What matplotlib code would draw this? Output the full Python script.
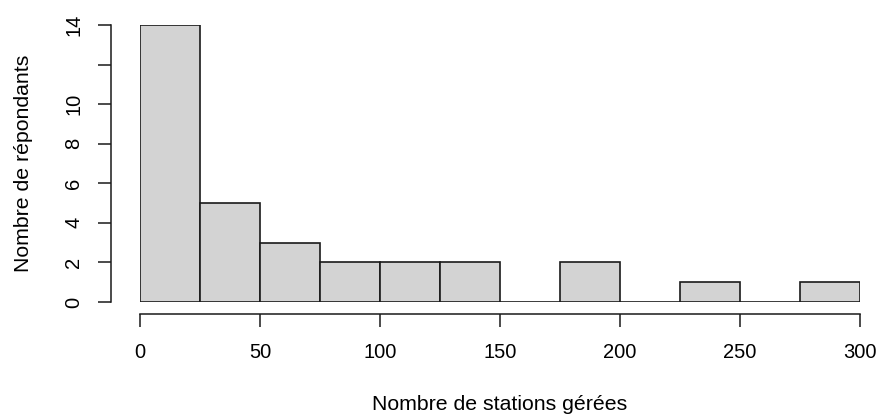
import numpy as np
import matplotlib
matplotlib.use("Agg")
import matplotlib.pyplot as plt

# histogram bins (nombre de stations) and counts
bin_edges = [0, 25, 50, 75, 100, 125, 150, 175, 200, 225, 250, 275, 300]
counts = [14, 5, 3, 2, 2, 2, 0, 2, 0, 1, 0, 1]
xticks = [0, 50, 100, 150, 200, 250, 300]
yticks = [0, 2, 4, 6, 8, 10, 12, 14]
ylabels = ["0", "2", "4", "6", "8", "10", "", "14"]

plt.rcParams["font.family"] = ["Liberation Sans", "DejaVu Sans"]
plt.rcParams["font.size"] = 14.5

W, H = 881, 415
fig = plt.figure(figsize=(W / 100, H / 100), dpi=100)
ax = fig.add_axes([140 / W, (H - 302) / H, 720 / W, 277 / H])

edges = np.array(bin_edges)
ax.bar(edges[:-1], counts, width=np.diff(edges), align="edge",
       color="#d3d3d3", edgecolor="#1a1a1a", linewidth=1.2)

ax.set_xlim(0, 300)
ax.set_ylim(0, 14)
for s in ["top", "right"]:
    ax.spines[s].set_visible(False)
ax.spines["bottom"].set_position(("outward", 8.6))
ax.spines["left"].set_position(("outward", 21))
ax.spines["bottom"].set_bounds(0, 300)
ax.spines["left"].set_bounds(0, 14)
for s in ["bottom", "left"]:
    ax.spines[s].set_linewidth(1.1)
    ax.spines[s].set_color("#1a1a1a")

ax.set_xticks(xticks)
ax.set_yticks(yticks)
ax.set_yticklabels(ylabels, rotation=90, va="center")
ax.tick_params(axis="both", length=9.5, width=1.1, direction="out", color="#1a1a1a")
ax.tick_params(axis="x", pad=11.5)
ax.tick_params(axis="y", pad=10.5)

ax.set_xlabel("Nombre de stations gérées", fontsize=15.3, labelpad=24)
ax.set_ylabel("Nombre de répondants", fontsize=15.3, labelpad=22)

fig.savefig("out.png", dpi=100)
